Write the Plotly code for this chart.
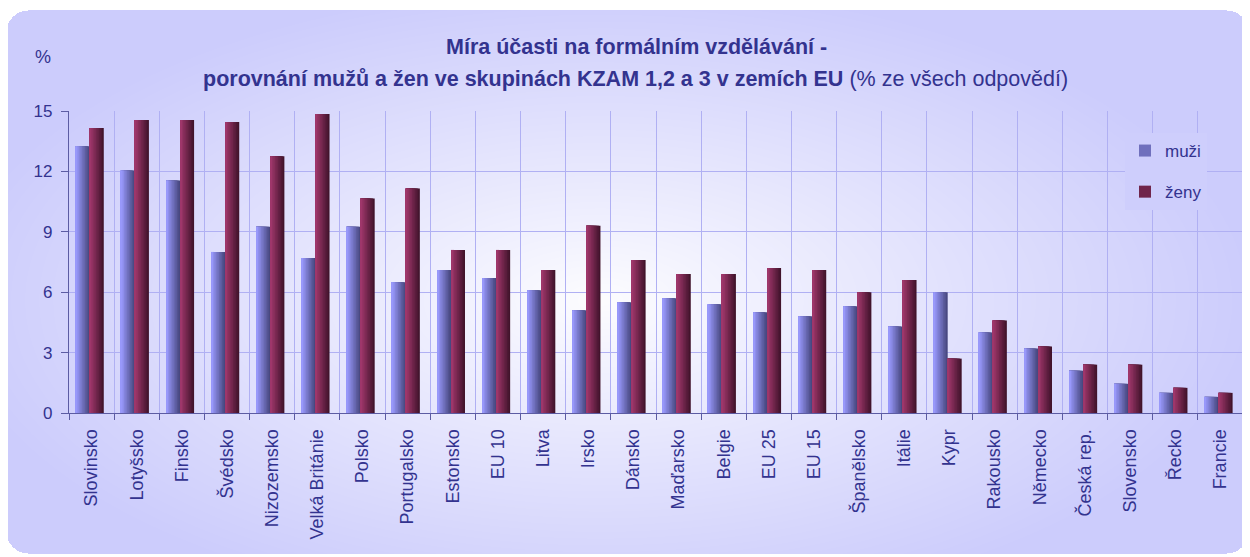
import base64, struct, zlib
import numpy as np
import plotly.graph_objects as go

# ---------------- data ----------------
categories = ["Slovinsko", "Lotyšsko", "Finsko", "Švédsko", "Nizozemsko", "Velká Británie",
              "Polsko", "Portugalsko", "Estonsko", "EU 10", "Litva", "Irsko", "Dánsko",
              "Maďarsko", "Belgie", "EU 25", "EU 15", "Španělsko", "Itálie", "Kypr",
              "Rakousko", "Německo", "Česká rep.", "Slovensko", "Řecko", "Francie"]
muzi = [13.25, 12.05, 11.55, 8.0, 9.25, 7.7, 9.25, 6.5, 7.1, 6.7, 6.1, 5.1, 5.5,
        5.7, 5.4, 5.0, 4.8, 5.3, 4.3, 6.0, 4.0, 3.2, 2.1, 1.45, 1.0, 0.8]
zeny = [14.15, 14.55, 14.55, 14.45, 12.75, 14.85, 10.65, 11.15, 8.1, 8.1, 7.1, 9.3, 7.6,
        6.9, 6.9, 7.2, 7.1, 6.0, 6.6, 2.7, 4.6, 3.3, 2.4, 2.4, 1.25, 1.0]
series_names = ["muži", "ženy"]
y_ticks = [0, 3, 6, 9, 12, 15]
title_line1 = "Míra účasti na formálním vzdělávání -"
title_line2_bold = "porovnání mužů a žen ve skupinách KZAM 1,2 a 3 v zemích EU"
title_line2_rest = " (% ze všech odpovědí)"
y_unit = "%"

# ---------------- layout constants (page pixel coords) ----------------
PAGE_W, PAGE_H = 1250, 557
OFF = 8                      # default body margin of the html page
W, H = PAGE_W - OFF, PAGE_H - OFF
PL, PR, PT, PB = 69, 1243, 111, 413    # plot area in page coordinates
ML, MT = PL - OFF, PT - OFF
MR, MB = (OFF + W) - PR, (OFF + H) - PB
PW, PH = PR - PL, PB - PT
TEXT = "#33338f"
GRID = "#b0b0f3"
AXIS = "#5c5ca3"
FONT = "Liberation Sans, Arial, sans-serif"

def px(xp):  # page x -> paper x
    return (xp - PL) / PW

def py(yp):  # page y -> paper y
    return (PB - yp) / PH

# ---------------- background gradient image ----------------
cx, cy, rx, ry = 600, 300, 660, 320
edge = np.array([204, 204, 252], float)
center = np.array([253, 253, 255], float)

def bg_color(x, y):
    d = np.sqrt(((x - cx) / rx) ** 2 + ((y - cy) / ry) ** 2)
    t = np.clip(d, 0, 1) ** 0.95
    return center + (edge - center) * np.asarray(t)[..., None]

yy, xx = np.mgrid[OFF:PAGE_H, OFF:PAGE_W].astype(float)
rgb = bg_color(xx, yy)
x0r, y0r, x1r, y1r, rad = 6, 10, 1248, 553, 22
qx = np.clip(np.maximum(x0r + rad - xx, xx - (x1r - rad)), 0, None)
qy = np.clip(np.maximum(y0r + rad - yy, yy - (y1r - rad)), 0, None)
inside = (xx >= x0r) & (xx <= x1r) & (yy >= y0r) & (yy <= y1r) & (qx ** 2 + qy ** 2 <= rad ** 2)
alpha = np.where(inside, 255, 0)
img = np.dstack([rgb, alpha]).astype(np.uint8)

def png_bytes(a):
    h, w, _ = a.shape
    raw = b"".join(b"\x00" + a[i].tobytes() for i in range(h))
    def chunk(tag, data):
        return struct.pack(">I", len(data)) + tag + data + struct.pack(">I", zlib.crc32(tag + data) & 0xffffffff)
    return (b"\x89PNG\r\n\x1a\n" + chunk(b"IHDR", struct.pack(">IIBBBBB", w, h, 8, 6, 0, 0, 0))
            + chunk(b"IDAT", zlib.compress(raw, 9)) + chunk(b"IEND", b""))

bg_uri = "data:image/png;base64," + base64.b64encode(png_bytes(img)).decode()
lc = bg_color(np.array([1170.0]), np.array([170.0]))[0]
legend_bg = "rgb(%d,%d,%d)" % tuple(int(round(v)) for v in lc)

# ---------------- bars (gradient via overlaid strips) ----------------
fig = go.Figure()
N = 9
bw = 0.31
shift = -0.04
palettes = {
    "muži": ((152, 152, 250), (72, 72, 128)),
    "ženy": ((158, 54, 106), (66, 20, 44)),
}
offsets = {"muži": -bw + shift, "ženy": shift}
for name, vals in zip(series_names, [muzi, zeny]):
    light, dark = palettes[name]
    for j in range(N - 1, -1, -1):
        f = j / (N - 1)
        col = tuple(int(round(light[k] + (dark[k] - light[k]) * f)) for k in range(3))
        fig.add_trace(go.Bar(
            x=categories, y=vals, name=name, legendgroup=name,
            showlegend=(j == N // 2),
            marker=dict(color="rgb(%d,%d,%d)" % col, line=dict(width=0)),
            width=bw * (j + 1) / N, offset=offsets[name],
            hoverinfo="skip" if j != 0 else "x+y+name",
        ))

fig.update_layout(
    width=W, height=H,
    margin=dict(l=ML, r=MR, t=MT, b=MB, autoexpand=False),
    paper_bgcolor="white", plot_bgcolor="rgba(0,0,0,0)",
    barmode="overlay",
    font=dict(family=FONT, color=TEXT, size=17),
    showlegend=True,
    legend=dict(x=px(1125), y=py(133), xanchor="left", yanchor="top",
                bgcolor=legend_bg, font=dict(size=17, color=TEXT), tracegroupgap=16,
                traceorder="grouped", itemwidth=30),
    images=[dict(source=bg_uri, xref="paper", yref="paper", x=px(OFF), y=py(OFF),
                 sizex=W / PW, sizey=H / PH, xanchor="left", yanchor="top",
                 sizing="stretch", layer="below")],
    xaxis=dict(type="category", tickson="boundaries", ticks="outside", ticklen=6,
               tickcolor=AXIS, showgrid=True, gridcolor=GRID, gridwidth=1.3,
               showline=True, linecolor=AXIS, linewidth=1.3, tickangle=-90,
               tickfont=dict(size=18, color=TEXT), ticklabelstandoff=8,
               range=[-0.5, len(categories) - 0.5]),
    yaxis=dict(range=[0, 15], tickvals=y_ticks, ticks="outside", ticklen=7, tickcolor=AXIS,
               showgrid=True, gridcolor=GRID, gridwidth=1.3, showline=True, linecolor=AXIS,
               linewidth=1.3, zeroline=False, tickfont=dict(size=17, color=TEXT),
               ticklabelstandoff=5),
    annotations=[
        dict(text="<b>" + title_line1 + "</b>", xref="paper", yref="paper",
             x=px(636), y=py(47), xanchor="center", yanchor="middle",
             showarrow=False, font=dict(size=21.5, color=TEXT)),
        dict(text="<b>" + title_line2_bold + "</b>" + title_line2_rest, xref="paper", yref="paper",
             x=px(635), y=py(79), xanchor="center", yanchor="middle",
             showarrow=False, font=dict(size=21.5, color=TEXT)),
        dict(text=y_unit, xref="paper", yref="paper", x=px(43), y=py(57),
             xanchor="center", yanchor="middle", showarrow=False, font=dict(size=18, color=TEXT)),
    ],
)

fig.write_html("out.html")
